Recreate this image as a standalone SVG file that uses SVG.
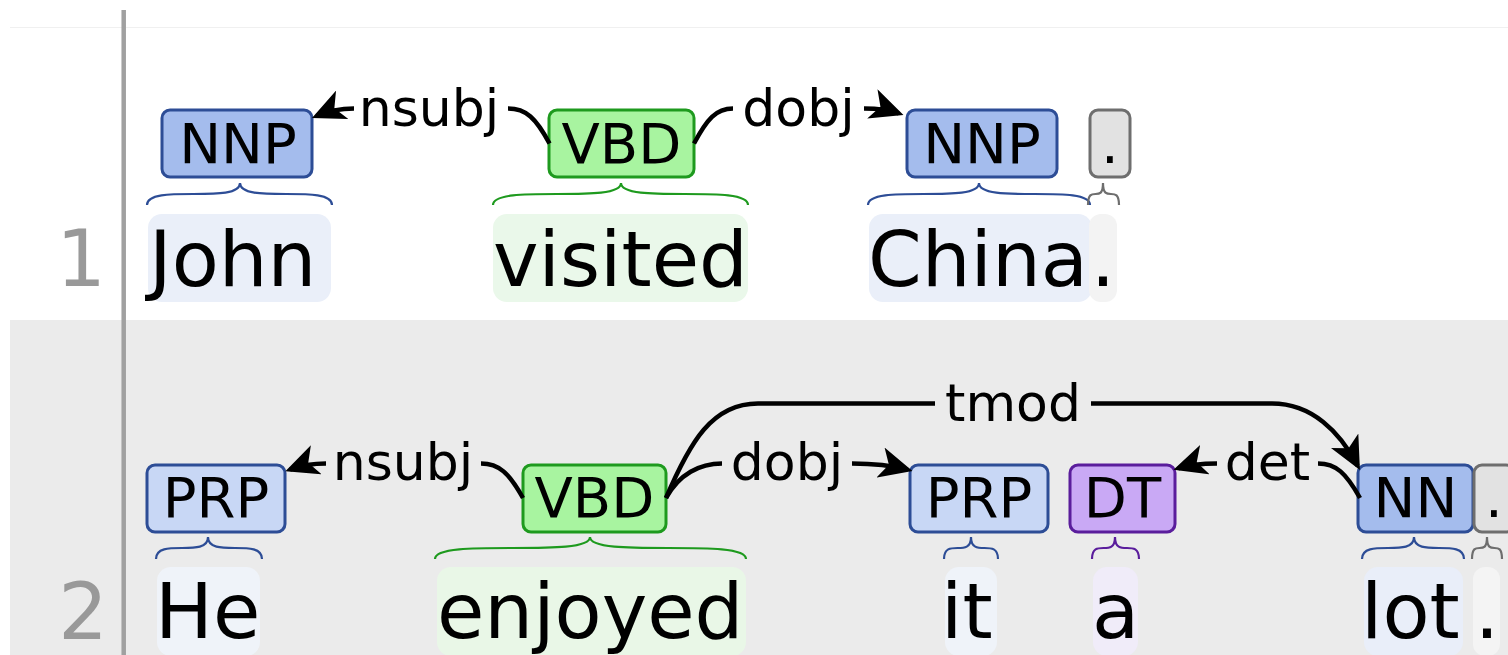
<svg xmlns="http://www.w3.org/2000/svg" width="1508" height="655" viewBox="0 0 1508 655">
<defs>
<marker id="ah" viewBox="0 0 10 10" refX="8.5" refY="5" markerWidth="33" markerHeight="31" markerUnits="userSpaceOnUse" orient="auto" preserveAspectRatio="none"><path d="M0,0 L10,5 L0,10 L2.6,5 z" fill="#000"/></marker>
</defs>
<style>
text{font-family:"DejaVu Sans","Liberation Sans",sans-serif;fill:#000}
.lbl{font-size:56px;text-anchor:middle}
.word{font-size:77px}
.arcl{font-size:52px;text-anchor:middle}
.ln{font-size:78px;fill:#999;text-anchor:end}
.box{stroke-width:3}
.brace{fill:none;stroke-width:2.2}
.arc{fill:none;stroke:#000;stroke-width:4.5}
.nn{fill:#a4bced;stroke:#2d4d96}
.prp{fill:#c8d7f5;stroke:#2d4d96}
.vb{fill:#a8f4a0;stroke:#1e9a1e}
.dt{fill:#c9a9f5;stroke:#5a1d9c}
.pu{fill:#e2e2e2;stroke:#6e6e6e}
.bnn{stroke:#2d4d96}
.bvb{stroke:#1e9a1e}
.bdt{stroke:#5a1d9c}
.bpu{stroke:#6e6e6e}
</style>

<g id="background">
<rect x="0" y="0" width="1508" height="655" fill="#ffffff"/>
<line x1="10" y1="27.5" x2="1508" y2="27.5" stroke="#f0f0f0" stroke-width="1"/>
<rect x="10" y="320" width="1498" height="335" fill="#ebebeb"/>
<line x1="123.7" y1="10" x2="123.7" y2="655" stroke="#a0a0a0" stroke-width="4.5"/>
<text class="ln" x="106" y="286">1</text>
<text class="ln" x="108" y="639">2</text>
</g>

<!-- Sentence 1 -->
<g id="s1-john">
<rect x="148" y="214" width="183" height="88" rx="14" fill="#eaeff9"/>
<text class="word" x="149" y="286">John</text>
<path class="brace bnn" d="M147,205 C147,183 240,205 240,183 C240,205 332,183 332,205"/>
<rect class="box nn" x="162" y="110" width="150" height="67" rx="8"/>
<text class="lbl" x="238" y="163">NNP</text>
</g>
<g id="s1-visited">
<rect x="493" y="214" width="255" height="88" rx="14" fill="#eaf8ea"/>
<text class="word" x="493" y="286">visited</text>
<path class="brace bvb" d="M493,205 C493,183 621,205 621,183 C621,205 748,183 748,205"/>
<rect class="box vb" x="549" y="110" width="145" height="67" rx="8"/>
<text class="lbl" x="621.5" y="163">VBD</text>
</g>
<g id="s1-china">
<rect x="869" y="214" width="223" height="88" rx="14" fill="#eaeff9"/>
<text class="word" x="868" y="286">China</text>
<path class="brace bnn" d="M868,205 C868,183 979,205 979,183 C979,205 1090,183 1090,205"/>
<rect class="box nn" x="907" y="110" width="150" height="67" rx="8"/>
<text class="lbl" x="982" y="163">NNP</text>
</g>
<g id="s1-period">
<rect x="1089" y="214" width="28" height="88" rx="12" fill="#f3f3f3"/>
<text class="word" x="1103" y="286" text-anchor="middle">.</text>
<path class="brace bpu" d="M1088,205 C1088,183 1103,205 1103,183 C1103,205 1119,183 1119,205"/>
<rect class="box pu" x="1090" y="110" width="40" height="67" rx="8"/>
<text class="lbl" x="1110" y="163">.</text>
</g>

<!-- Sentence 2 -->
<g id="s2-he">
<rect x="157" y="567" width="103" height="89" rx="14" fill="#eff3f9"/>
<text class="word" x="155" y="638">He</text>
<path class="brace bnn" d="M156,559 C156,537 208,559 208,537 C208,559 262,537 262,559"/>
<rect class="box prp" x="147" y="465" width="138" height="67" rx="8"/>
<text class="lbl" x="216" y="517">PRP</text>
</g>
<g id="s2-enjoyed">
<rect x="437" y="567" width="309" height="89" rx="14" fill="#e9f7e7"/>
<text class="word" x="437" y="638">enjoyed</text>
<path class="brace bvb" d="M435,559 C435,537 590,559 590,537 C590,559 746,537 746,559"/>
<rect class="box vb" x="523" y="465" width="143" height="67" rx="8"/>
<text class="lbl" x="594.5" y="517">VBD</text>
</g>
<g id="s2-it">
<rect x="945" y="567" width="52" height="89" rx="14" fill="#eff3f9"/>
<text class="word" x="941" y="638">it</text>
<path class="brace bnn" d="M944,559 C944,537 971,559 971,537 C971,559 998,537 998,559"/>
<rect class="box prp" x="910" y="465" width="138" height="67" rx="8"/>
<text class="lbl" x="979" y="517">PRP</text>
</g>
<g id="s2-a">
<rect x="1093" y="567" width="45" height="89" rx="14" fill="#f0ecf9"/>
<text class="word" x="1092" y="638">a</text>
<path class="brace bdt" d="M1092,559 C1092,537 1115,559 1115,537 C1115,559 1139,537 1139,559"/>
<rect class="box dt" x="1070" y="465" width="105" height="67" rx="8"/>
<text class="lbl" x="1122.5" y="517">DT</text>
</g>
<g id="s2-lot">
<rect x="1364" y="567" width="99" height="89" rx="14" fill="#e9eef9"/>
<text class="word" x="1361" y="638">lot</text>
<path class="brace bnn" d="M1362,559 C1362,537 1414,559 1414,537 C1414,559 1464,537 1464,559"/>
<rect class="box nn" x="1358" y="465" width="115" height="67" rx="8"/>
<text class="lbl" x="1415.5" y="517">NN</text>
</g>
<g id="s2-period">
<rect x="1473" y="567" width="27" height="89" rx="12" fill="#f4f4f4"/>
<text class="word" x="1487" y="638" text-anchor="middle">.</text>
<path class="brace bpu" d="M1472,559 C1472,537 1487,559 1487,537 C1487,559 1502,537 1502,559"/>
<rect class="box pu" x="1474" y="465" width="40" height="67" rx="8"/>
<text class="lbl" x="1494" y="517">.</text>
</g>

<g id="connectors">
<!-- s1 nsubj: visited -> John -->
<path class="arc" d="M508,108.5 C526,108.5 536,118 549.5,143.5"/>
<path class="arc" d="M354,108.5 C340,108.5 328,111 316.5,116" marker-end="url(#ah)"/>
<text class="arcl" x="429" y="125.5">nsubj</text>
<!-- s1 dobj: visited -> China -->
<path class="arc" d="M694,143.5 C707,119 716,108.5 733,108.5"/>
<path class="arc" d="M864,108.5 C878,108.5 888,109.5 898.8,113.3" marker-end="url(#ah)"/>
<text class="arcl" x="798.5" y="125.5">dobj</text>
<!-- s2 nsubj: enjoyed -> He -->
<path class="arc" d="M481,463.5 C499,463.5 509,473 523,498"/>
<path class="arc" d="M326,463.5 C312,463.5 301,465.5 290,469.6" marker-end="url(#ah)"/>
<text class="arcl" x="403" y="480">nsubj</text>
<!-- s2 dobj: enjoyed -> it -->
<path class="arc" d="M666,498 C679,474 700,463.5 722,463.5"/>
<path class="arc" d="M852,463.5 C870,463.5 890,465 907.7,469.7" marker-end="url(#ah)"/>
<text class="arcl" x="787" y="480">dobj</text>
<!-- s2 tmod: enjoyed -> lot -->
<path class="arc" d="M666,498 C690,442 712,403.5 758,403.5 L935,403.5"/>
<path class="arc" d="M1091,403.5 L1272,403.5 C1312,403.5 1340,432 1357.6,465.6" marker-end="url(#ah)"/>
<text class="arcl" x="1013" y="420.5">tmod</text>
<!-- s2 det: lot -> a -->
<path class="arc" d="M1318,463.5 C1336,463.5 1346,473 1360,498"/>
<path class="arc" d="M1217,463.5 C1202,463.5 1190,464.5 1178.2,468.3" marker-end="url(#ah)"/>
<text class="arcl" x="1267.5" y="480">det</text>
</g>
</svg>
